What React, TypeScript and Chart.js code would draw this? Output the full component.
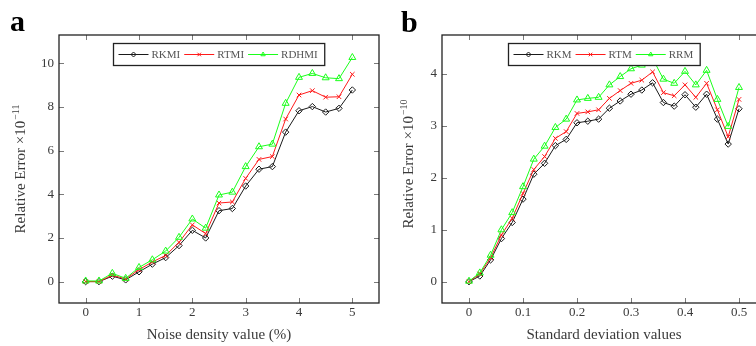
import React, { useEffect, useRef } from 'react';
import { Chart, registerables } from 'chart.js';

Chart.register(...registerables);

// ---------- Panel a ----------
const noiseDensity = [0, 0.25, 0.5, 0.75, 1, 1.25, 1.5, 1.75, 2, 2.25, 2.5, 2.75, 3, 3.25, 3.5, 3.75, 4, 4.25, 4.5, 4.75, 5];
const rkmi = [0, 0, 0.25, 0.08, 0.45, 0.8, 1.1, 1.65, 2.35, 2.0, 3.25, 3.35, 4.38, 5.15, 5.27, 6.85, 7.83, 8.02, 7.77, 7.94, 8.78];
const rtmi = [0, 0, 0.3, 0.12, 0.55, 0.9, 1.2, 1.8, 2.6, 2.2, 3.6, 3.65, 4.73, 5.6, 5.73, 7.45, 8.55, 8.75, 8.45, 8.47, 9.5];
const rdhmi = [0.03, 0.03, 0.38, 0.15, 0.65, 1.0, 1.4, 2.03, 2.87, 2.45, 3.97, 4.1, 5.27, 6.18, 6.3, 8.17, 9.36, 9.54, 9.34, 9.3, 10.27];
const noiseTicks = [0, 1, 2, 3, 4, 5];
const errorTicksA = [0, 2, 4, 6, 8, 10];

// ---------- Panel b ----------
const stdDev = [0, 0.02, 0.04, 0.06, 0.08, 0.1, 0.12, 0.14, 0.16, 0.18, 0.2, 0.22, 0.24, 0.26, 0.28, 0.3, 0.32, 0.34, 0.36, 0.38, 0.4, 0.42, 0.44, 0.46, 0.48, 0.5];
const rkm = [0, 0.11, 0.42, 0.83, 1.14, 1.59, 2.07, 2.28, 2.62, 2.74, 3.06, 3.09, 3.13, 3.34, 3.48, 3.61, 3.69, 3.83, 3.45, 3.38, 3.6, 3.36, 3.61, 3.13, 2.65, 3.33];
const rtm = [0, 0.15, 0.46, 0.9, 1.22, 1.7, 2.16, 2.41, 2.76, 2.89, 3.24, 3.27, 3.31, 3.53, 3.68, 3.82, 3.88, 4.04, 3.64, 3.58, 3.79, 3.55, 3.82, 3.31, 2.79, 3.51];
const rrm = [0.01, 0.17, 0.51, 1.0, 1.33, 1.83, 2.36, 2.61, 2.97, 3.13, 3.5, 3.53, 3.55, 3.79, 3.95, 4.1, 4.17, 4.3, 3.9, 3.82, 4.05, 3.79, 4.07, 3.51, 2.99, 3.74];
const stdTicks = [0, 0.1, 0.2, 0.3, 0.4, 0.5];
const errorTicksB = [0, 1, 2, 3, 4];

const FONT = '"Liberation Serif", "Times New Roman", serif';
const TEXT = '#3a3a3a';
const BLACK = '#1a1a1a';
const RED = '#ff1a1a';
const GREEN = '#1aff1a';

function drawMarker(ctx: CanvasRenderingContext2D, style: string, x: number, y: number, r: number, color: string) {
  ctx.save();
  ctx.strokeStyle = color;
  ctx.lineWidth = 1;
  ctx.beginPath();
  if (style === 'rectRot') {
    ctx.moveTo(x, y - r); ctx.lineTo(x + r, y); ctx.lineTo(x, y + r); ctx.lineTo(x - r, y); ctx.closePath();
  } else if (style === 'crossRot') {
    const d = r * 0.707;
    ctx.moveTo(x - d, y - d); ctx.lineTo(x + d, y + d);
    ctx.moveTo(x - d, y + d); ctx.lineTo(x + d, y - d);
  } else {
    ctx.moveTo(x, y - r);
    ctx.lineTo(x + r * 0.866, y + r * 0.5);
    ctx.lineTo(x - r * 0.866, y + r * 0.5);
    ctx.closePath();
  }
  ctx.stroke();
  ctx.restore();
}

const pgfPlugin = {
  id: 'pgf',
  beforeDatasetsDraw(chart: any) {
    const { ctx, chartArea: a, scales } = chart;
    const L = 5;
    ctx.save();
    ctx.strokeStyle = '#7a7a7a';
    ctx.lineWidth = 1;
    ctx.beginPath();
    for (const t of scales.x.ticks) {
      const px = Math.round(scales.x.getPixelForValue(t.value)) + 0.5;
      ctx.moveTo(px, a.top); ctx.lineTo(px, a.top + L);
      ctx.moveTo(px, a.bottom); ctx.lineTo(px, a.bottom - L);
    }
    for (const t of scales.y.ticks) {
      const py = Math.round(scales.y.getPixelForValue(t.value)) + 0.5;
      ctx.moveTo(a.left, py); ctx.lineTo(a.left + L, py);
      ctx.moveTo(a.right, py); ctx.lineTo(a.right - L, py);
    }
    ctx.stroke();
    ctx.restore();
  },
  afterDatasetsDraw(chart: any, _args: any, opts: any) {
    const { ctx, chartArea: a } = chart;
    ctx.save();
    // frame
    ctx.strokeStyle = '#222';
    ctx.lineWidth = 1.3;
    ctx.strokeRect(a.left, a.top, a.right - a.left, a.bottom - a.top);

    // legend
    const items = chart.data.datasets.map((ds: any) => ({ label: ds.label, color: ds.borderColor, style: ds.pointStyle }));
    ctx.font = `11px ${FONT}`;
    const padL = 5, lineW = 30, gapT = 3, gapE = 4, padR = 7, bh = 22;
    const widths = items.map((it: any) => ctx.measureText(it.label).width);
    let total = padL + padR + gapE * (items.length - 1);
    widths.forEach((w: number) => { total += lineW + gapT + w; });
    const bx = Math.round((a.left + a.right) / 2 - total / 2) + 0.5;
    const by = a.top + 8.5;
    ctx.fillStyle = '#fff';
    ctx.fillRect(bx, by, total, bh);
    ctx.strokeStyle = '#222';
    ctx.lineWidth = 1.3;
    ctx.strokeRect(bx, by, total, bh);
    const cy = by + bh / 2;
    let x = bx + padL;
    items.forEach((it: any, i: number) => {
      ctx.strokeStyle = it.color;
      ctx.lineWidth = 1;
      ctx.beginPath();
      ctx.moveTo(x, cy); ctx.lineTo(x + lineW, cy);
      ctx.stroke();
      drawMarker(ctx, it.style, x + lineW / 2, cy, 2.5, it.color);
      x += lineW + gapT;
      ctx.fillStyle = '#555';
      ctx.textBaseline = 'middle';
      ctx.textAlign = 'left';
      ctx.fillText(it.label, x, cy + 0.5);
      x += widths[i] + gapE;
    });

    // y title with superscript
    ctx.fillStyle = TEXT;
    ctx.font = `15px ${FONT}`;
    const mainW = ctx.measureText(opts.yTitle).width;
    ctx.font = `10px ${FONT}`;
    const supW = ctx.measureText(opts.ySup).width;
    const tw = mainW + 1 + supW;
    ctx.save();
    ctx.translate(opts.yTitleX, opts.yTitleCy + tw / 2);
    ctx.rotate(-Math.PI / 2);
    ctx.textAlign = 'left';
    ctx.textBaseline = 'alphabetic';
    ctx.font = `15px ${FONT}`;
    ctx.fillText(opts.yTitle, 0, 0);
    ctx.font = `10px ${FONT}`;
    ctx.fillText(opts.ySup, mainW + 1, -6);
    ctx.restore();

    // panel label
    ctx.fillStyle = '#000';
    ctx.font = `bold 30px ${FONT}`;
    ctx.textAlign = 'left';
    ctx.textBaseline = 'alphabetic';
    ctx.fillText(opts.panel, opts.panelX, opts.panelY);
    ctx.restore();
  },
};

function series(label: string, xs: number[], ys: number[], color: string, style: string, radius: number, order: number) {
  return {
    label,
    data: xs.map((x, i) => ({ x, y: ys[i] })),
    borderColor: color,
    backgroundColor: color,
    borderWidth: 1,
    pointStyle: style,
    pointRadius: radius,
    pointBorderWidth: 1,
    pointBorderColor: color,
    pointBackgroundColor: 'rgba(255,255,255,0)',
    tension: 0,
    order,
  };
}

interface Cfg {
  datasets: any[];
  xMin: number; xMax: number; xTicks: number[]; xFmt: (v: number) => string; xTitle: string;
  yMin: number; yMax: number; yTicks: number[];
  yWidth: number; padRight: number;
  yTitle: string; ySup: string; yTitleX: number; yTitleCy: number;
  panel: string; panelX: number; panelY: number;
}

function makeConfig(c: Cfg): any {
  return {
    type: 'line',
    data: { datasets: c.datasets },
    plugins: [pgfPlugin],
    options: {
      responsive: false,
      animation: false,
      layout: { padding: { left: 0, top: 35, right: c.padRight, bottom: 0 } },
      plugins: {
        legend: { display: false },
        tooltip: { enabled: false },
        pgf: { yTitle: c.yTitle, ySup: c.ySup, yTitleX: c.yTitleX, yTitleCy: c.yTitleCy, panel: c.panel, panelX: c.panelX, panelY: c.panelY },
      },
      scales: {
        x: {
          type: 'linear',
          min: c.xMin,
          max: c.xMax,
          grid: { display: false, drawTicks: false },
          border: { display: false },
          afterBuildTicks: (s: any) => { s.ticks = c.xTicks.map((v) => ({ value: v })); },
          afterFit: (s: any) => { s.height = 43; },
          ticks: {
            padding: 2,
            color: TEXT,
            font: { family: FONT, size: 13 },
            autoSkip: false,
            maxRotation: 0,
            callback: (v: any) => c.xFmt(Number(v)),
          },
          title: {
            display: true,
            text: c.xTitle,
            color: TEXT,
            font: { family: FONT, size: 15 },
            padding: { top: 0, bottom: 2 },
          },
        },
        y: {
          type: 'linear',
          min: c.yMin,
          max: c.yMax,
          grid: { display: false, drawTicks: false },
          border: { display: false },
          afterBuildTicks: (s: any) => { s.ticks = c.yTicks.map((v) => ({ value: v })); },
          afterFit: (s: any) => { s.width = c.yWidth; },
          ticks: {
            padding: 5,
            color: TEXT,
            font: { family: FONT, size: 13 },
            callback: (v: any) => String(Number(v)),
          },
        },
      },
    },
  };
}

function ChartCanvas({ cfg, left, width }: { cfg: () => any; left: number; width: number }) {
  const ref = useRef<HTMLCanvasElement>(null);
  useEffect(() => {
    const chart = new Chart(ref.current as HTMLCanvasElement, cfg());
    return () => chart.destroy();
  }, []);
  return (
    <canvas
      ref={ref}
      width={width}
      height={346}
      style={{ position: 'absolute', left, top: 0, width, height: 346 }}
    />
  );
}

const configA = () =>
  makeConfig({
    datasets: [
      series('RKMI', noiseDensity, rkmi, BLACK, 'rectRot', 3.2, 2),
      series('RTMI', noiseDensity, rtmi, RED, 'crossRot', 3.2, 1),
      series('RDHMI', noiseDensity, rdhmi, GREEN, 'triangle', 4, 0),
    ],
    xMin: -0.5, xMax: 5.5, xTicks: noiseTicks, xFmt: (v) => String(v), xTitle: 'Noise density value (%)',
    yMin: -0.98, yMax: 11.3, yTicks: errorTicksA,
    yWidth: 59, padRight: 3,
    yTitle: 'Relative Error ×10', ySup: '−11', yTitleX: 25, yTitleCy: 169,
    panel: 'a', panelX: 10, panelY: 31,
  });

const configB = () =>
  makeConfig({
    datasets: [
      series('RKM', stdDev, rkm, BLACK, 'rectRot', 3.2, 2),
      series('RTM', stdDev, rtm, RED, 'crossRot', 3.2, 1),
      series('RRM', stdDev, rrm, GREEN, 'triangle', 4, 0),
    ],
    xMin: -0.05, xMax: 0.55, xTicks: stdTicks, xFmt: (v) => (v === 0 ? '0' : v.toFixed(1)), xTitle: 'Standard deviation values',
    yMin: -0.41, yMax: 4.75, yTicks: errorTicksB,
    yWidth: 64, padRight: 12,
    yTitle: 'Relative Error ×10', ySup: '−10', yTitleX: 35, yTitleCy: 164,
    panel: 'b', panelX: 23, panelY: 32,
  });

export default function App() {
  return (
    <div style={{ position: 'fixed', left: 0, top: 0, width: 756, height: 346, overflow: 'hidden', background: '#fff' }}>
      <ChartCanvas cfg={configA} left={0} width={384} />
      <ChartCanvas cfg={configB} left={378} width={400} />
    </div>
  );
}
